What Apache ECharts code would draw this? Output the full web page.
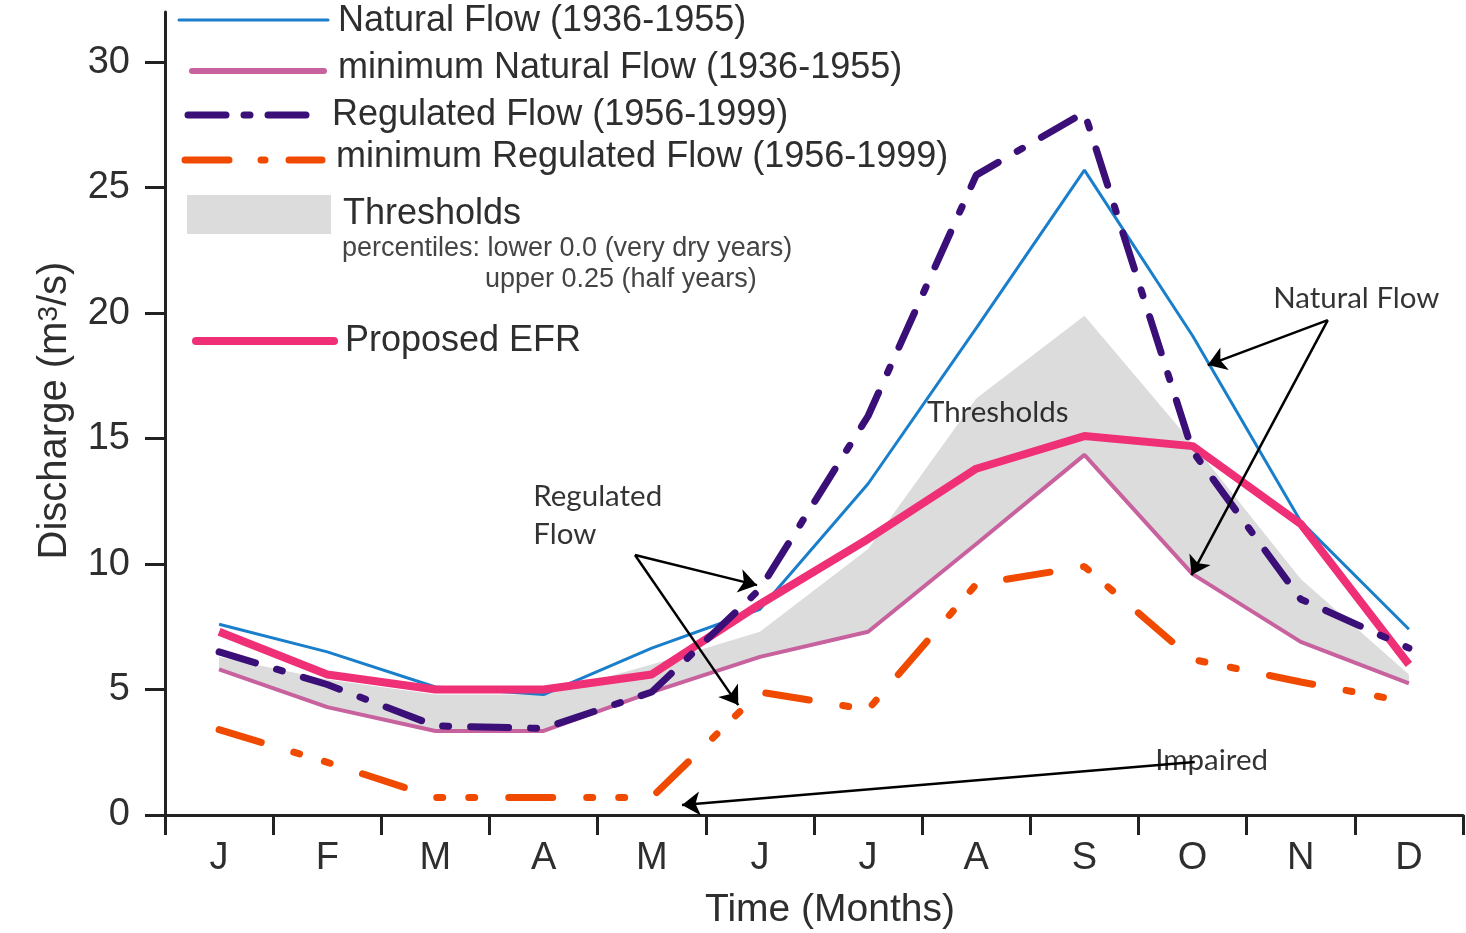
<!DOCTYPE html>
<html><head><meta charset="utf-8">
<script src="https://cdn.jsdelivr.net/npm/echarts@6/dist/echarts.min.js"></script>
<style>html,body{margin:0;padding:0;background:#fff}#c{width:1466px;height:933px}</style>
</head><body><div id="c"></div>
<script>
// ---- data ----
const months = ['J','F','M','A','M','J','J','A','S','O','N','D'];
const yTicks = [0,5,10,15,20,25,30];
const naturalFlow      = [7.6, 6.5, 5.1, 4.8, 6.65, 8.2, 13.2, 19.4, 25.7, 19.1, 11.7, 7.4];
const minNaturalFlow   = [5.8, 4.3, 3.35, 3.35, 4.9, 6.3, 7.3, 10.8, 14.35, 9.6, 6.9, 5.25];
const regulatedFlow    = [6.5, 5.2, 3.55, 3.45, 4.9, 9.0, 15.9, 25.5, 28.0, 14.5, 8.6, 6.65];
const minRegulatedFlow = [3.4, 2.1, 0.7, 0.7, 0.7, 4.9, 4.2, 9.2, 9.9, 6.2, 5.3, 4.5];
const proposedEFR      = [7.3, 5.6, 5.0, 5.0, 5.6, 8.4, 11.0, 13.8, 15.1, 14.7, 11.6, 6.0];
const thresholdLower   = [5.8, 4.3, 3.35, 3.35, 4.9, 6.3, 7.3, 10.8, 14.35, 9.6, 6.9, 5.25];
const thresholdUpper   = [6.3, 5.4, 4.8, 4.8, 6.0, 7.3, 10.6, 16.6, 19.9, 14.8, 9.4, 5.6];
// annotations (x in month-index units, y in m3/s)
const annText = [
  {name:'Natural Flow', value:[9.74, 20.6]},
  {name:'Thresholds', value:[6.54, 16.06]},
  {name:'Regulated\nFlow', value:[2.90, 11.95]},
  {name:'Impaired', value:[8.65, 2.19]}
];
const annArrows = [
  [[10.25, 19.72], [9.14, 17.93]],
  [[10.25, 19.72], [8.99, 9.56]],
  [[3.845, 10.36], [4.973, 9.16]],
  [[3.845, 10.36], [4.80, 4.38]],
  [[9.02, 2.11], [4.28, 0.40]]
];
const legendLabels = ['Natural Flow (1936-1955)','minimum Natural Flow (1936-1955)','Regulated Flow (1956-1999)','minimum Regulated Flow (1956-1999)','Thresholds','percentiles: lower 0.0 (very dry years)','upper 0.25 (half years)','Proposed EFR'];

// ---- styles ----
const FONT = '"Liberation Sans", Arial, sans-serif';
const ANN = 'Lato, "Open Sans", sans-serif';
const C = {blue:'#1a7fcb', mauve:'#c8629e', purple:'#3a0f78', orange:'#ef4a00', pink:'#ef2f76', gray:'#dcdcdc', axis:'#222', text:'#2e2e2e'};
const dashReg = [38, 22, 6, 22];
const dashMinReg = [44, 34, 6, 26, 6, 34];

const thresholdSpan = thresholdUpper.map((u,i)=> +(u - thresholdLower[i]).toFixed(3));

function lineEl(x1,x2,y,color,w,dash){
  return {type:'line', shape:{x1:x1,y1:y,x2:x2,y2:y}, style:{stroke:color,lineWidth:w,lineDash:dash||null,lineCap:'round'}, silent:true, z:100};
}
function textEl(x,y,t,size,color){
  return {type:'text', x:x, y:y, style:{text:t, fontSize:size, fontFamily:FONT, fill:color||C.text, verticalAlign:'middle', align:'left'}, silent:true, z:100};
}
const graphics = [
  lineEl(179,328,20,C.blue,3),
  textEl(338,21,legendLabels[0],36),
  lineEl(192,324,71,C.mauve,6),
  textEl(338,68,legendLabels[1],36),
  lineEl(188,324,115,C.purple,7,[38,18,6,18]),
  textEl(332,115,legendLabels[2],36),
  lineEl(185,322,160,C.orange,7,[44,32,4,24]),
  textEl(336,157,legendLabels[3],36),
  {type:'rect', shape:{x:187,y:195,width:144,height:39}, style:{fill:C.gray}, silent:true, z:100},
  textEl(343,214,legendLabels[4],36),
  textEl(342,249,legendLabels[5],27,'#444'),
  textEl(485,280,legendLabels[6],27,'#444'),
  lineEl(196,334,341,C.pink,8),
  textEl(345,341,legendLabels[7],36)
];

const chart = echarts.init(document.getElementById('c'));
chart.setOption({
  animation:false,
  backgroundColor:'#fff',
  grid:{left:165,right:3,top:12,bottom:118,containLabel:false,outerBoundsMode:'none'},
  xAxis:[{
    type:'category', data:months, boundaryGap:true,
    axisLine:{show:true,onZero:false,lineStyle:{color:C.axis,width:3}},
    axisTick:{show:true,length:20,lineStyle:{color:C.axis,width:3}},
    axisLabel:{fontSize:38,color:C.text,fontFamily:FONT,margin:25},
    splitLine:{show:false},
    name:'Time (Months)', nameLocation:'middle', nameGap:76,
    nameTextStyle:{fontSize:39,color:C.text,fontFamily:FONT,padding:[0,0,0,32]}
  },{
    type:'value', min:-0.5, max:11.5, show:false
  }],
  yAxis:{
    type:'value', min:0, max:32, interval:5,
    axisLine:{show:true,onZero:false,lineStyle:{color:C.axis,width:3}},
    axisTick:{show:true,length:20,lineStyle:{color:C.axis,width:3},customValues:yTicks},
    axisLabel:{fontSize:38,color:C.text,fontFamily:FONT,margin:35,customValues:yTicks},
    splitLine:{show:false},
    name:'Discharge (m{sup|3}/s)', nameLocation:'middle', nameGap:90, nameRotate:90,
    nameTextStyle:{fontSize:40,color:C.text,fontFamily:FONT,padding:[0,0,0,6],rich:{sup:{fontSize:28,fontFamily:FONT,color:C.text,verticalAlign:'top',padding:[0,0,12,0]}}}
  },
  graphic:graphics,
  series:[
    {name:'thrLower', type:'line', stack:'thr', data:thresholdLower, symbol:'none', lineStyle:{opacity:0}, silent:true, z:1},
    {name:'Thresholds', type:'line', stack:'thr', data:thresholdSpan, symbol:'none', lineStyle:{opacity:0}, areaStyle:{color:C.gray,opacity:1}, silent:true, z:1},
    {name:'minimum Natural Flow (1936-1955)', type:'line', data:minNaturalFlow, symbol:'none', lineStyle:{color:C.mauve,width:4}, z:3},
    {name:'minimum Regulated Flow (1956-1999)', type:'line', data:minRegulatedFlow, symbol:'none', lineStyle:{color:C.orange,width:7,type:dashMinReg,cap:'round'}, z:4},
    {name:'Natural Flow (1936-1955)', type:'line', data:naturalFlow, symbol:'none', lineStyle:{color:C.blue,width:3}, z:5},
    {name:'Proposed EFR', type:'line', data:proposedEFR, symbol:'none', lineStyle:{color:C.pink,width:8}, z:6},
    {name:'Regulated Flow (1956-1999)', type:'line', data:regulatedFlow, symbol:'none', lineStyle:{color:C.purple,width:7,type:dashReg,cap:'round'}, z:7},
    {type:'lines', coordinateSystem:'cartesian2d', xAxisIndex:1, yAxisIndex:0, silent:true, z:8,
      symbol:['none','arrow'], symbolSize:[14,18],
      lineStyle:{color:'#000',width:2.5,opacity:1,curveness:0},
      data:annArrows.map(c=>({coords:c}))},
    {type:'scatter', xAxisIndex:1, yAxisIndex:0, silent:true, z:9, symbolSize:1, itemStyle:{color:'rgba(0,0,0,0)'},
      label:{show:true, position:'right', distance:0, formatter:p=>p.name, fontFamily:ANN, fontSize:29.5, color:'#000', lineHeight:38, align:'left', verticalAlign:'middle'},
      data:annText}
  ]
});
</script></body></html>
